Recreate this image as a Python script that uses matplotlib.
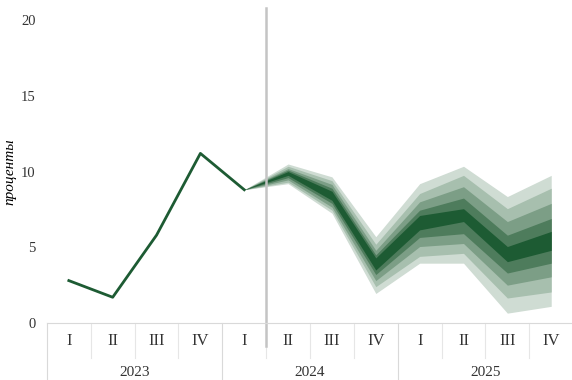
import numpy as np
import matplotlib.pyplot as plt
import matplotlib.transforms as mtransforms

# --- данные ---
kvartaly = ["I", "II", "III", "IV", "I", "II", "III", "IV", "I", "II", "III", "IV"]
gody = ["2023", "2024", "2025"]

# факт (2023 I - 2024 I)
fakt = [2.8, 1.7, 5.8, 11.2, 8.8]

# веер прогноза (2024 I - 2025 IV), границы интервалов сверху вниз
verh4 = [8.8, 10.5, 9.65, 5.7, 9.2, 10.35, 8.35, 9.75]
verh3 = [8.8, 10.35, 9.4, 5.2, 8.55, 9.75, 7.55, 8.9]
verh2 = [8.8, 10.2, 9.15, 4.8, 8.0, 9.0, 6.7, 7.9]
verh1 = [8.8, 10.1, 8.9, 4.5, 7.45, 8.25, 5.8, 6.9]
verh0 = [8.8, 10.0, 8.7, 4.3, 7.1, 7.55, 5.05, 6.05]
niz0 = [8.8, 9.75, 8.1, 3.5, 6.15, 6.7, 4.05, 4.8]
niz1 = [8.8, 9.6, 7.9, 3.2, 5.65, 5.9, 3.3, 3.95]
niz2 = [8.8, 9.45, 7.65, 2.8, 5.05, 5.25, 2.5, 3.05]
niz3 = [8.8, 9.3, 7.45, 2.4, 4.4, 4.6, 1.65, 2.05]
niz4 = [8.8, 9.2, 7.25, 1.95, 3.95, 3.95, 0.65, 1.1]

plt.rcParams['font.family'] = ['Liberation Serif', 'DejaVu Serif']

fig = plt.figure(figsize=(5.72, 3.8), dpi=100)
ax = fig.add_axes([0.082, 0.15, 0.92, 0.797])

x_fakt = np.arange(len(fakt))
x_prog = np.arange(len(fakt) - 1, len(kvartaly))

# светлые полосы -> темная
cveta = ['#cfdcd3', '#a7bfae', '#7c9e86', '#4e7c5c']
verhi = [verh4, verh3, verh2, verh1]
nizi = [niz4, niz3, niz2, niz1]
for v, n, c in zip(verhi, nizi, cveta):
    ax.fill_between(x_prog, v, n, color=c, lw=0)
ax.fill_between(x_prog, verh0, niz0, color='#1d5b33', lw=0)

ax.plot(x_fakt, fakt, color='#1d5b33', lw=2)

ax.set_xlim(-0.5, len(kvartaly) - 0.5)
ax.set_ylim(0, 20)
ax.set_yticks([0, 5, 10, 15, 20])
ax.tick_params(axis='y', length=0, pad=8, labelsize=10.5, labelcolor='#333333')
ax.set_ylabel("проценты", style='italic', fontsize=11)
ax.yaxis.set_label_coords(-0.058, 0.5)

for s in ['top', 'right', 'left']:
    ax.spines[s].set_visible(False)
ax.spines['bottom'].set_color('#d9d9d9')

ax.set_xticks(np.arange(len(kvartaly)))
ax.set_xticklabels(kvartaly, fontsize=12, color='#333333')
ax.tick_params(axis='x', length=0, pad=7)

trans = mtransforms.blended_transform_factory(ax.transData, ax.transAxes)
# разделители кварталов и лет
for i in range(len(kvartaly) + 1):
    if i % 4 == 0:
        ax.plot([i - 0.5, i - 0.5], [0, -0.19], transform=trans, color='#d9d9d9', lw=0.8, clip_on=False)
    else:
        ax.plot([i - 0.5, i - 0.5], [0, -0.115], transform=trans, color='#e6e6e6', lw=0.8, clip_on=False)
for k, g in enumerate(gody):
    ax.text(k * 4 + 1.5, -0.162, g, transform=trans, ha='center', va='center', fontsize=11, color='#333333')

# граница факт / прогноз
ax.plot([4.5, 4.5], [-0.075, 1.04], transform=trans, color='#c4c4c4', lw=1.8, clip_on=False)

fig.savefig("out.png", dpi=100)
